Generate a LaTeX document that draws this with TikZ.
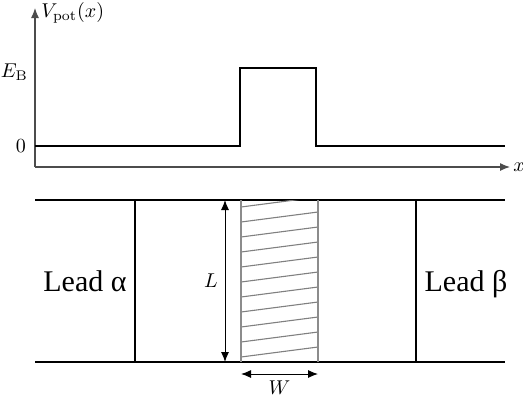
\documentclass[tikz,border=0pt]{standalone}
\usepackage{amsmath,amssymb}
\usepackage{fontspec}
\newfontfamily\leadfont{Liberation Serif}
\usetikzlibrary{arrows.meta, positioning}

\begin{document}
\begin{tikzpicture}[x=0.5pt,y=-0.5pt,
    axis/.style={draw=black!70,line width=0.6pt,-{Latex[length=5pt,width=4pt]}},
    dim/.style={line width=0.5pt,{Latex[length=5pt,width=4pt]}-{Latex[length=5pt,width=4pt]}},
    lead/.style={font=\leadfont\fontsize{15}{18}\selectfont,anchor=base}]
        \useasboundingbox (0,0) rectangle (523,403);
        % potential profile
        \coordinate (O) at (35,167);
        \coordinate (ytip) at (35,8);
        \coordinate (xtip) at (510,167);
        \draw[axis] (O) -- (ytip);
        \draw[axis] (O) -- (xtip);
        \node[right,inner sep=2pt] (Vlab) at (37,13){$V_{\mathrm{pot}}(x)$};
        \node[right,inner sep=1.5pt] (xlab) at (xtip){$x$};
        \node[left] (EB) at (35,72){$E_{\mathrm{B}}$};
        \node[left] (zero) at (33,146){$0$};
        \draw[line width=0.6pt] (35,146) -- (240,146) -- (240,68) -- (316,68) -- (316,146) -- (505,146);
        % leads and scattering region
        \draw[line width=0.6pt] (35,200) -- (505,200);
        \draw[line width=0.6pt] (35,362) -- (505,362);
        \draw[line width=0.9pt] (135,200) rectangle (416,362);
        \begin{scope}
            \clip (241,200) rectangle (318,362);
            \foreach \y in {207,222,...,357}
                \draw[black!50,line width=0.55pt] (241,\y) -- (318,\y-10);
        \end{scope}
        \draw[black!45,line width=0.6pt] (241,200) -- (241,362);
        \draw[black!45,line width=0.6pt] (318,200) -- (318,362);
        \coordinate (Ltop) at (225,200);
        \coordinate (Lbot) at (225,362);
        \draw[dim] (Ltop) -- (Lbot) node[midway,left]{$L$};
        \coordinate (Wl) at (241,374);
        \coordinate (Wr) at (318,374);
        \draw[dim] (Wl) -- (Wr) node[midway,below]{$W$};
        \node[lead] (leadA) at (85,291){Lead α};
        \node[lead] (leadB) at (466,291){Lead β};
    \end{tikzpicture}
\end{document}
